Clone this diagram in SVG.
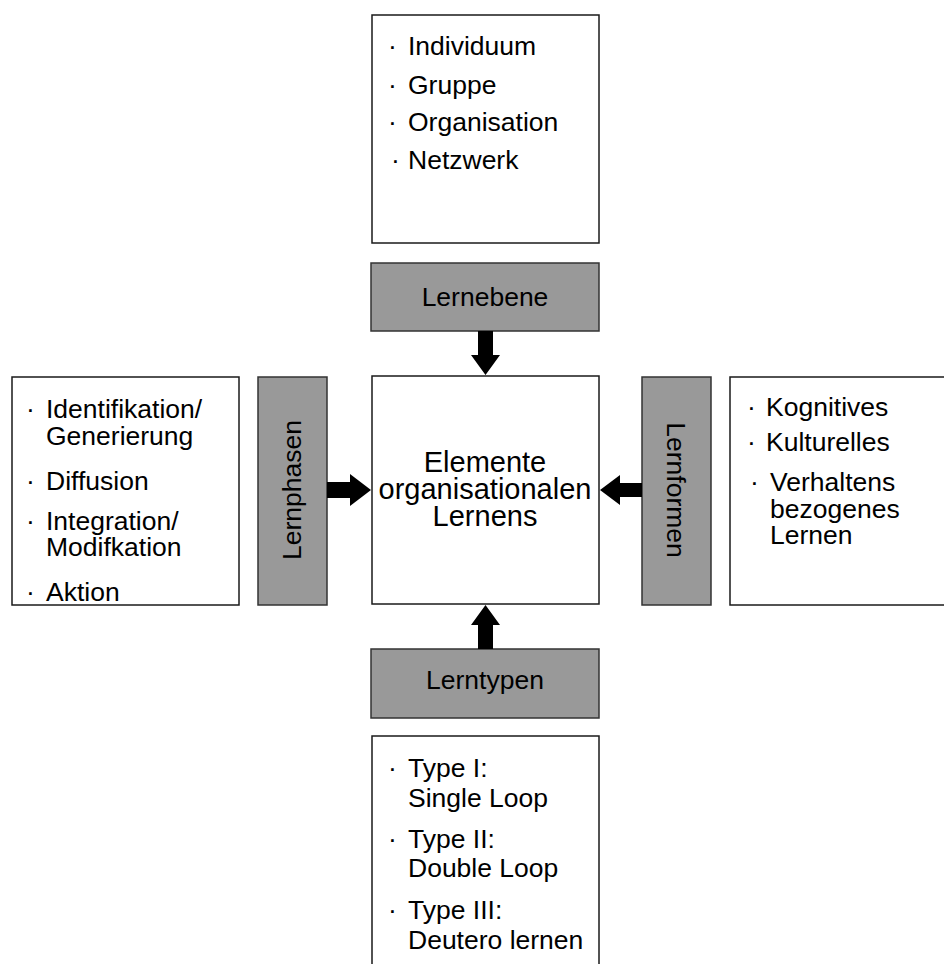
<svg xmlns="http://www.w3.org/2000/svg" width="944" height="964" viewBox="0 0 944 964">
  <style>
    .box { fill: #ffffff; stroke: #1a1a1a; stroke-width: 1.5; }
    .label { fill: #999999; stroke: #333333; stroke-width: 1.5; }
    text { font-family: "Liberation Sans", Arial, sans-serif; fill: #000000; }
    .t { font-size: 26.5px; }
    .lt { font-size: 26.5px; text-anchor: middle; }
    .ct { font-size: 29px; text-anchor: middle; }
    .arrow { fill: #000000; }
  </style>
  <rect width="944" height="964" fill="#ffffff"/>

  <!-- top list: learning levels -->
  <g id="list-levels">
    <rect class="box" x="372" y="15" width="227" height="228"/>
    <text class="t" x="388" y="55">·</text><text class="t" x="408" y="55">Individuum</text>
    <text class="t" x="388" y="94">·</text><text class="t" x="408" y="94">Gruppe</text>
    <text class="t" x="388" y="131">·</text><text class="t" x="408" y="131">Organisation</text>
    <text class="t" x="391" y="169">·</text><text class="t" x="408" y="169">Netzwerk</text>
  </g>

  <g id="lernebene">
    <rect class="label" x="371" y="263" width="228" height="68"/>
    <text class="lt" x="485" y="306">Lernebene</text>
  </g>

  <g id="center">
    <rect class="box" x="372" y="376" width="227" height="228"/>
    <text class="ct" x="485" y="472">Elemente</text>
    <text class="ct" x="485" y="499">organisationalen</text>
    <text class="ct" x="485" y="526">Lernens</text>
  </g>

  <!-- left list: learning phases -->
  <g id="list-phases">
    <rect class="box" x="12" y="377" width="227" height="228"/>
    <text class="t" x="26" y="418">·</text><text class="t" x="46" y="418">Identifikation/</text>
    <text class="t" x="46" y="445">Generierung</text>
    <text class="t" x="26" y="490">·</text><text class="t" x="46" y="490">Diffusion</text>
    <text class="t" x="26" y="530">·</text><text class="t" x="46" y="530">Integration/</text>
    <text class="t" x="46" y="556">Modifkation</text>
    <text class="t" x="26" y="601">·</text><text class="t" x="46" y="601">Aktion</text>
  </g>

  <g id="lernphasen">
    <rect class="label" x="258" y="377" width="69" height="228"/>
    <text class="lt" transform="translate(301 490) rotate(-90)">Lernphasen</text>
  </g>

  <g id="lernformen">
    <rect class="label" x="642" y="377" width="69" height="228"/>
    <text class="lt" transform="translate(667 490) rotate(90)">Lernformen</text>
  </g>

  <!-- right list: learning forms -->
  <g id="list-forms">
    <rect class="box" x="730" y="377" width="220" height="228"/>
    <text class="t" x="747" y="416">·</text><text class="t" x="766" y="416">Kognitives</text>
    <text class="t" x="747" y="451">·</text><text class="t" x="766" y="451">Kulturelles</text>
    <text class="t" x="750" y="491">·</text><text class="t" x="770" y="491">Verhaltens</text>
    <text class="t" x="770" y="518">bezogenes</text>
    <text class="t" x="770" y="544">Lernen</text>
  </g>

  <g id="lerntypen">
    <rect class="label" x="371" y="649" width="228" height="69"/>
    <text class="lt" x="485" y="689">Lerntypen</text>
  </g>

  <!-- bottom list: learning types -->
  <g id="list-types">
    <rect class="box" x="372" y="736" width="227" height="240"/>
    <text class="t" x="388" y="777">·</text><text class="t" x="408" y="777">Type I:</text>
    <text class="t" x="408" y="807">Single Loop</text>
    <text class="t" x="388" y="848">·</text><text class="t" x="408" y="848">Type II:</text>
    <text class="t" x="408" y="877">Double Loop</text>
    <text class="t" x="388" y="919">·</text><text class="t" x="408" y="919">Type III:</text>
    <text class="t" x="408" y="949">Deutero lernen</text>
  </g>

  <!-- block arrows pointing into the centre -->
  <g id="connectors">
    <polygon class="arrow" points="478,331 493,331 493,355 500,355 485.5,375 471,355 478,355"/>
    <polygon class="arrow" points="327,482 350,482 350,474 371,490 350,506 350,498 327,498"/>
    <polygon class="arrow" points="642,483 620,483 620,475 600,490 620,505 620,497 642,497"/>
    <polygon class="arrow" points="478,649 493,649 493,625 500,625 485.5,605 471,625 478,625"/>
  </g>
</svg>
